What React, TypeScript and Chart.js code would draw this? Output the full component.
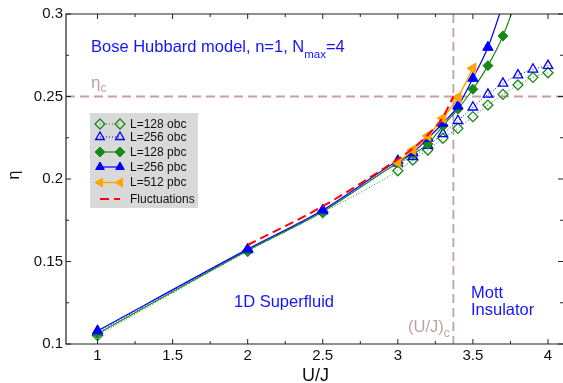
import React, { useEffect, useRef } from 'react';
import { Chart, registerables } from 'chart.js';

Chart.register(...registerables);

// ---------- data ----------
const X_OBC = [1, 2, 2.5, 3.0, 3.1, 3.2, 3.3, 3.4, 3.5, 3.6, 3.7, 3.8, 3.9, 4.0];
const L128_OBC = [0.1052, 0.1562, 0.1797, 0.2050, 0.2115, 0.2176, 0.2247, 0.2307, 0.2378, 0.2448, 0.2513, 0.2570, 0.2616, 0.2644];
const L256_OBC = [0.1072, 0.1570, 0.1805, 0.2095, 0.2135, 0.2202, 0.2273, 0.2353, 0.2435, 0.2513, 0.2580, 0.2630, 0.2665, 0.2687];

const X_128_PBC = [1, 2, 2.5, 3.0, 3.1, 3.2, 3.3, 3.4, 3.5, 3.6, 3.7, 3.8];
const L128_PBC = [0.1062, 0.1567, 0.1803, 0.2099, 0.2152, 0.2212, 0.2321, 0.2424, 0.2544, 0.2687, 0.2867, 0.3110];

const X_256_PBC = [1, 2, 2.5, 3.0, 3.1, 3.2, 3.3, 3.4, 3.5, 3.6, 3.7];
const L256_PBC = [0.1080, 0.1575, 0.1812, 0.2111, 0.2159, 0.2247, 0.2338, 0.2442, 0.2610, 0.2798, 0.3060];

const X_512_PBC = [3.0, 3.1, 3.2, 3.3, 3.4, 3.5];
const L512_PBC = [0.2101, 0.2176, 0.2261, 0.2368, 0.2495, 0.2671];

const X_FLUCT = [2.0, 2.5, 3.0, 3.1, 3.2, 3.3, 3.37];
const FLUCT = [0.1600, 0.1835, 0.2120, 0.2185, 0.2267, 0.2375, 0.2500];

const ETA_C = 0.25;
const UJ_C = 3.37;

const X_TICKS = [1, 1.5, 2, 2.5, 3, 3.5, 4];
const X_MINOR = [1.25, 1.75, 2.25, 2.75, 3.25, 3.75];
const Y_TICKS = [0.1, 0.15, 0.2, 0.25, 0.3];
const Y_MINOR = [0.125, 0.175, 0.225, 0.275];

const LEGEND_LABELS = ['L=128 obc', 'L=256 obc', 'L=128 pbc', 'L=256 pbc', 'L=512 pbc', 'Fluctuations'];

// ---------- styles ----------
const FONT = '"Liberation Sans", Arial, Helvetica, sans-serif';
const GREEN = 'rgb(24,136,24)';
const BLUE = 'rgb(0,0,255)';
const ORANGE = 'rgb(255,165,0)';
const RED = 'rgb(255,0,0)';
const REF = 'rgb(196,160,160)';
const TEXT_BLUE = 'rgb(20,20,255)';
const AXIS = '#222';

const pts = (xs: number[], ys: number[]) => xs.map((x, i) => ({ x, y: ys[i] }));

function drawMarker(ctx: CanvasRenderingContext2D, style: string, x: number, y: number, r: number, rotDeg: number, fill: string | null, stroke: string, lw: number) {
  ctx.beginPath();
  if (style === 'rectRot') {
    ctx.moveTo(x, y - r);
    ctx.lineTo(x + r, y);
    ctx.lineTo(x, y + r);
    ctx.lineTo(x - r, y);
    ctx.closePath();
  } else {
    let rad = (rotDeg * Math.PI) / 180;
    ctx.moveTo(x + Math.sin(rad) * r, y - Math.cos(rad) * r);
    rad += (2 * Math.PI) / 3;
    ctx.lineTo(x + Math.sin(rad) * r, y - Math.cos(rad) * r);
    rad += (2 * Math.PI) / 3;
    ctx.lineTo(x + Math.sin(rad) * r, y - Math.cos(rad) * r);
    ctx.closePath();
  }
  if (fill) {
    ctx.fillStyle = fill;
    ctx.fill();
  }
  ctx.strokeStyle = stroke;
  ctx.lineWidth = lw;
  ctx.setLineDash([]);
  ctx.stroke();
}

const overlay = {
  id: 'overlay',
  beforeDatasetsDraw(chart: any) {
    const { ctx, chartArea: a, scales } = chart;
    const x = scales.x, y = scales.y;
    ctx.save();
    ctx.beginPath();
    ctx.rect(a.left, a.top, a.right - a.left, a.bottom - a.top);
    ctx.clip();
    ctx.strokeStyle = REF;
    ctx.lineWidth = 1.8;
    ctx.setLineDash([9, 5]);
    const py = y.getPixelForValue(ETA_C);
    ctx.beginPath();
    ctx.moveTo(a.left, py);
    ctx.lineTo(a.right, py);
    ctx.stroke();
    const px = x.getPixelForValue(UJ_C);
    ctx.beginPath();
    ctx.moveTo(px, a.top);
    ctx.lineTo(px, a.bottom);
    ctx.stroke();
    ctx.restore();
  },
  afterDraw(chart: any) {
    const { ctx, chartArea: a, scales } = chart;
    const x = scales.x, y = scales.y;
    ctx.save();
    // frame
    ctx.strokeStyle = AXIS;
    ctx.lineWidth = 1.2;
    ctx.setLineDash([]);
    ctx.beginPath();
    ctx.moveTo(a.right, a.top);
    ctx.lineTo(a.left, a.top);
    ctx.lineTo(a.left, a.bottom);
    ctx.lineTo(a.right, a.bottom);
    ctx.stroke();
    // ticks
    ctx.lineWidth = 1;
    const tickX = (v: number, len: number) => {
      const p = x.getPixelForValue(v);
      ctx.beginPath();
      ctx.moveTo(p, a.bottom);
      ctx.lineTo(p, a.bottom - len);
      ctx.moveTo(p, a.top);
      ctx.lineTo(p, a.top + len);
      ctx.stroke();
    };
    const tickY = (v: number, len: number) => {
      const p = y.getPixelForValue(v);
      ctx.beginPath();
      ctx.moveTo(a.left, p);
      ctx.lineTo(a.left + len, p);
      ctx.moveTo(a.right, p);
      ctx.lineTo(a.right - len, p);
      ctx.stroke();
    };
    X_TICKS.forEach((v) => tickX(v, 5));
    X_MINOR.forEach((v) => tickX(v, 3));
    Y_TICKS.forEach((v) => tickY(v, 5));
    Y_MINOR.forEach((v) => tickY(v, 3));

    // axis titles
    ctx.fillStyle = '#111';
    ctx.font = `18px ${FONT}`;
    ctx.textAlign = 'center';
    ctx.textBaseline = 'alphabetic';
    ctx.fillText('U/J', (a.left + a.right) / 2 + 1, 381);
    ctx.save();
    ctx.translate(19, 175);
    ctx.rotate(-Math.PI / 2);
    ctx.font = `16px ${FONT}`;
    ctx.fillText('η', 0, 0);
    ctx.restore();

    // annotation texts
    ctx.textAlign = 'left';
    ctx.fillStyle = TEXT_BLUE;
    let cx = 91;
    ctx.font = `16.5px ${FONT}`;
    const t1 = 'Bose Hubbard model, n=1, N';
    ctx.fillText(t1, cx, 52);
    cx += ctx.measureText(t1).width;
    ctx.font = `11.5px ${FONT}`;
    ctx.fillText('max', cx, 58);
    cx += ctx.measureText('max').width;
    ctx.font = `16.5px ${FONT}`;
    ctx.fillText('=4', cx, 52);

    ctx.font = `16.5px ${FONT}`;
    ctx.fillText('1D Superfluid', 234, 307);
    ctx.fillText('Mott', 471, 298);
    ctx.fillText('Insulator', 471, 315);

    ctx.fillStyle = REF;
    ctx.font = `17px ${FONT}`;
    ctx.fillText('η', 91, 88);
    let ex = 91 + ctx.measureText('η').width;
    ctx.font = `12px ${FONT}`;
    ctx.fillText('c', ex, 92);

    ctx.font = `16.5px ${FONT}`;
    ctx.fillText('(U/J)', 408, 332);
    ex = 408 + ctx.measureText('(U/J)').width;
    ctx.font = `12px ${FONT}`;
    ctx.fillText('c', ex, 337);

    // legend
    ctx.fillStyle = 'rgb(217,217,217)';
    ctx.fillRect(90, 113, 108, 95);
    const rows = [124, 137, 152, 167, 182.5, 199];
    const ds = chart.data.datasets;
    ds.forEach((d: any, i: number) => {
      const ry = rows[i];
      ctx.strokeStyle = d.borderColor;
      ctx.lineWidth = d.borderWidth;
      ctx.setLineDash(d.borderDash || []);
      ctx.beginPath();
      ctx.moveTo(100, ry);
      ctx.lineTo(120, ry);
      ctx.stroke();
      ctx.setLineDash([]);
      if (d.pointRadius > 0) {
        const fill = d.pointBackgroundColor === 'transparent' ? null : d.pointBackgroundColor;
        const r = Math.min(d.pointRadius, 5);
        drawMarker(ctx, d.pointStyle, 100, ry, r, d.pointRotation || 0, fill, d.pointBorderColor, d.pointBorderWidth);
        drawMarker(ctx, d.pointStyle, 120, ry, r, d.pointRotation || 0, fill, d.pointBorderColor, d.pointBorderWidth);
      }
      ctx.fillStyle = '#111';
      ctx.font = `12px ${FONT}`;
      ctx.textBaseline = 'middle';
      ctx.fillText(LEGEND_LABELS[i], 130, ry + 0.5);
      ctx.textBaseline = 'alphabetic';
    });
    ctx.restore();
  },
};

export default function App() {
  const ref = useRef<HTMLCanvasElement | null>(null);
  useEffect(() => {
    if (!ref.current) return;
    const common = { showLine: true, clip: 0, cubicInterpolationMode: 'monotone' as const };
    const chart = new Chart(ref.current, {
      type: 'scatter',
      data: {
        datasets: [
          {
            ...common,
            label: LEGEND_LABELS[0],
            data: pts(X_OBC, L128_OBC),
            borderColor: GREEN,
            borderWidth: 1,
            borderDash: [1, 2],
            pointStyle: 'rectRot',
            pointRadius: 5,
            pointBackgroundColor: 'transparent',
            pointBorderColor: GREEN,
            pointBorderWidth: 1.3,
            order: 6,
          },
          {
            ...common,
            label: LEGEND_LABELS[1],
            data: pts(X_OBC, L256_OBC),
            borderColor: BLUE,
            borderWidth: 1,
            borderDash: [1, 2],
            pointStyle: 'triangle',
            pointRadius: 5.5,
            pointBackgroundColor: 'transparent',
            pointBorderColor: BLUE,
            pointBorderWidth: 1.3,
            order: 5,
          },
          {
            ...common,
            label: LEGEND_LABELS[2],
            data: pts(X_128_PBC, L128_PBC),
            borderColor: GREEN,
            borderWidth: 1.2,
            pointStyle: 'rectRot',
            pointRadius: 5,
            pointBackgroundColor: GREEN,
            pointBorderColor: GREEN,
            pointBorderWidth: 1,
            order: 4,
          },
          {
            ...common,
            label: LEGEND_LABELS[3],
            data: pts(X_256_PBC, L256_PBC),
            borderColor: BLUE,
            borderWidth: 1.2,
            pointStyle: 'triangle',
            pointRadius: 6,
            pointBackgroundColor: BLUE,
            pointBorderColor: BLUE,
            pointBorderWidth: 1,
            order: 3,
          },
          {
            ...common,
            label: LEGEND_LABELS[4],
            data: pts(X_512_PBC, L512_PBC),
            borderColor: ORANGE,
            borderWidth: 1.5,
            pointStyle: 'triangle',
            pointRotation: -90,
            pointRadius: 6,
            pointBackgroundColor: ORANGE,
            pointBorderColor: ORANGE,
            pointBorderWidth: 1,
            order: 2,
          },
          {
            ...common,
            label: LEGEND_LABELS[5],
            data: pts(X_FLUCT, FLUCT),
            borderColor: RED,
            borderWidth: 2,
            borderDash: [9, 5],
            pointRadius: 0,
            order: 1,
          },
        ] as any,
      },
      options: {
        responsive: false,
        maintainAspectRatio: false,
        animation: false,
        layout: { autoPadding: false, padding: { top: 14, right: 0, left: 0, bottom: 0 } },
        plugins: { legend: { display: false }, tooltip: { enabled: false } },
        scales: {
          x: {
            type: 'linear',
            min: 0.79,
            max: 4.1,
            grid: { display: false, drawTicks: false },
            border: { display: false },
            afterBuildTicks: (s: any) => {
              s.ticks = X_TICKS.map((v) => ({ value: v }));
            },
            afterFit: (s: any) => {
              s.height = 39;
              s.paddingLeft = 0;
              s.paddingRight = 0;
            },
            ticks: {
              autoSkip: false,
              maxRotation: 0,
              padding: 3,
              color: '#111',
              font: { family: FONT, size: 15 },
              callback: (v: any) => String(+Number(v).toFixed(2)),
            },
          },
          y: {
            type: 'linear',
            min: 0.1,
            max: 0.3,
            grid: { display: false, drawTicks: false },
            border: { display: false },
            afterBuildTicks: (s: any) => {
              s.ticks = Y_TICKS.map((v) => ({ value: v }));
            },
            afterFit: (s: any) => {
              s.width = 66;
              s.paddingTop = 0;
              s.paddingBottom = 0;
            },
            ticks: {
              autoSkip: false,
              padding: 3,
              color: '#111',
              font: { family: FONT, size: 15 },
              callback: (v: any) => String(+Number(v).toFixed(3)),
            },
          },
        },
      } as any,
      plugins: [overlay],
    });
    return () => chart.destroy();
  }, []);
  return (
    <div style={{ position: 'absolute', left: 0, top: 0, width: 563, height: 383, background: '#fff' }}>
      <canvas ref={ref} width={563} height={383} style={{ display: 'block' }} />
    </div>
  );
}
